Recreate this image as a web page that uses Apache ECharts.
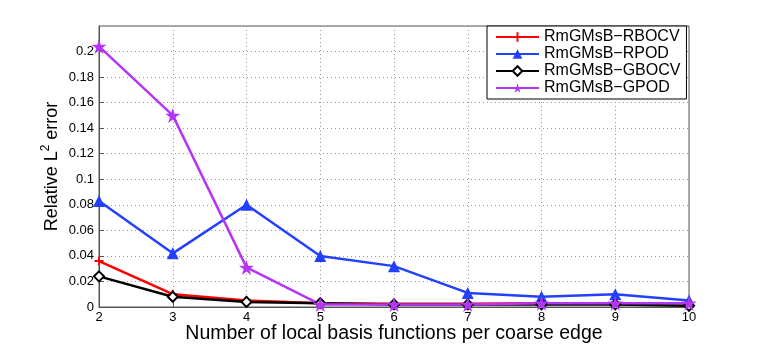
<!DOCTYPE html>
<html>
<head>
<meta charset="utf-8">
<script src="https://cdn.jsdelivr.net/npm/echarts@6/dist/echarts.min.js"></script>
<style>
  html, body { margin: 0; padding: 0; background: #fff; }
  #main { width: 761px; height: 346px; }
</style>
</head>
<body>
<div id="main"></div>
<script>
// number of local basis functions
var basisNum = [2, 3, 4, 5, 6, 7, 8, 9, 10];
// relative L2 error
var rboCV = [0.036, 0.010, 0.005, 0.003, 0.0025, 0.0025, 0.003, 0.003, 0.003];
var rPOD  = [0.083, 0.042, 0.080, 0.040, 0.032, 0.011, 0.008, 0.010, 0.005];
var gboCV = [0.024, 0.008, 0.004, 0.003, 0.002, 0.002, 0.002, 0.002, 0.001];
var gPOD  = [0.204, 0.150, 0.031, 0.002, 0.002, 0.002, 0.003, 0.003, 0.003];

function pairs(ys) {
  return basisNum.map(function (x, i) { return [x, ys[i]]; });
}

var plusPath = 'path://M4,0 L6,0 L6,4 L10,4 L10,6 L6,6 L6,10 L4,10 L4,6 L0,6 L0,4 L4,4 Z';
var starPath = 'path://M50,0 L61,35 L98,35 L68,57 L79,91 L50,70 L21,91 L32,57 L2,35 L39,35 Z';

var chart = echarts.init(document.getElementById('main'));
var font = 'Liberation Sans, Arial, sans-serif';

chart.setOption({
  animation: false,
  backgroundColor: '#fff',
  grid: {
    left: 99, right: 72, top: 26, bottom: 39, outerBoundsMode: 'none',
    show: true, borderColor: '#555', borderWidth: 1
  },
  legend: {
    left: 487, top: 26,
    orient: 'vertical',
    backgroundColor: '#fff',
    borderColor: '#000', borderWidth: 1,
    padding: [3, 6, 3, 8],
    itemGap: 1,
    itemWidth: 43, itemHeight: 12,
    textStyle: { fontFamily: font, fontSize: 16, color: '#000' }
  },
  xAxis: {
    type: 'value', min: 2, max: 10, interval: 1,
    name: 'Number of local basis functions per coarse edge',
    nameLocation: 'middle', nameGap: 17, nameMoveOverlap: false,
    nameTextStyle: { fontFamily: font, fontSize: 19.5, color: '#000' },
    axisLine: { lineStyle: { color: '#555' } },
    axisTick: { inside: true, length: 5, lineStyle: { color: '#555' } },
    axisLabel: { fontFamily: font, fontSize: 13, color: '#000', margin: 4 },
    splitLine: { show: true, lineStyle: { type: [1, 3], color: '#999' } }
  },
  yAxis: {
    type: 'value', min: 0, max: 0.22, interval: 0.02,
    name: 'Relative L{sup|2} error',
    nameLocation: 'middle', nameGap: 35, nameMoveOverlap: false,
    nameTextStyle: {
      fontFamily: font, fontSize: 18, color: '#000',
      rich: { sup: { fontSize: 12, verticalAlign: 'top', padding: [0, 0, 12, 0], fontFamily: font } }
    },
    axisLine: { show: true, lineStyle: { color: '#555' } },
    axisTick: { show: true, inside: true, length: 5, lineStyle: { color: '#555' } },
    axisLabel: { fontFamily: font, fontSize: 13, color: '#000', margin: 5, showMaxLabel: false },
    splitLine: { show: true, lineStyle: { type: [1, 3], color: '#999' } }
  },
  series: [
    {
      name: 'RmGMsB\u2212RBOCV', type: 'line', data: pairs(rboCV),
      lineStyle: { width: 2.5, color: '#ff0000' },
      symbol: plusPath, symbolSize: 9, itemStyle: { color: '#ff0000' }
    },
    {
      name: 'RmGMsB\u2212RPOD', type: 'line', data: pairs(rPOD),
      lineStyle: { width: 2.5, color: '#2340ff' },
      symbol: 'triangle', symbolSize: 12, itemStyle: { color: '#2340ff' }
    },
    {
      name: 'RmGMsB\u2212GBOCV', type: 'line', data: pairs(gboCV),
      lineStyle: { width: 2.5, color: '#000' },
      symbol: 'diamond', symbolSize: 10,
      itemStyle: { color: '#fff', borderColor: '#000', borderWidth: 2 }
    },
    {
      name: 'RmGMsB\u2212GPOD', type: 'line', data: pairs(gPOD),
      lineStyle: { width: 2.5, color: '#b535f5' },
      symbol: starPath, symbolSize: 15, itemStyle: { color: '#b535f5' }
    }
  ]
});
</script>
</body>
</html>
